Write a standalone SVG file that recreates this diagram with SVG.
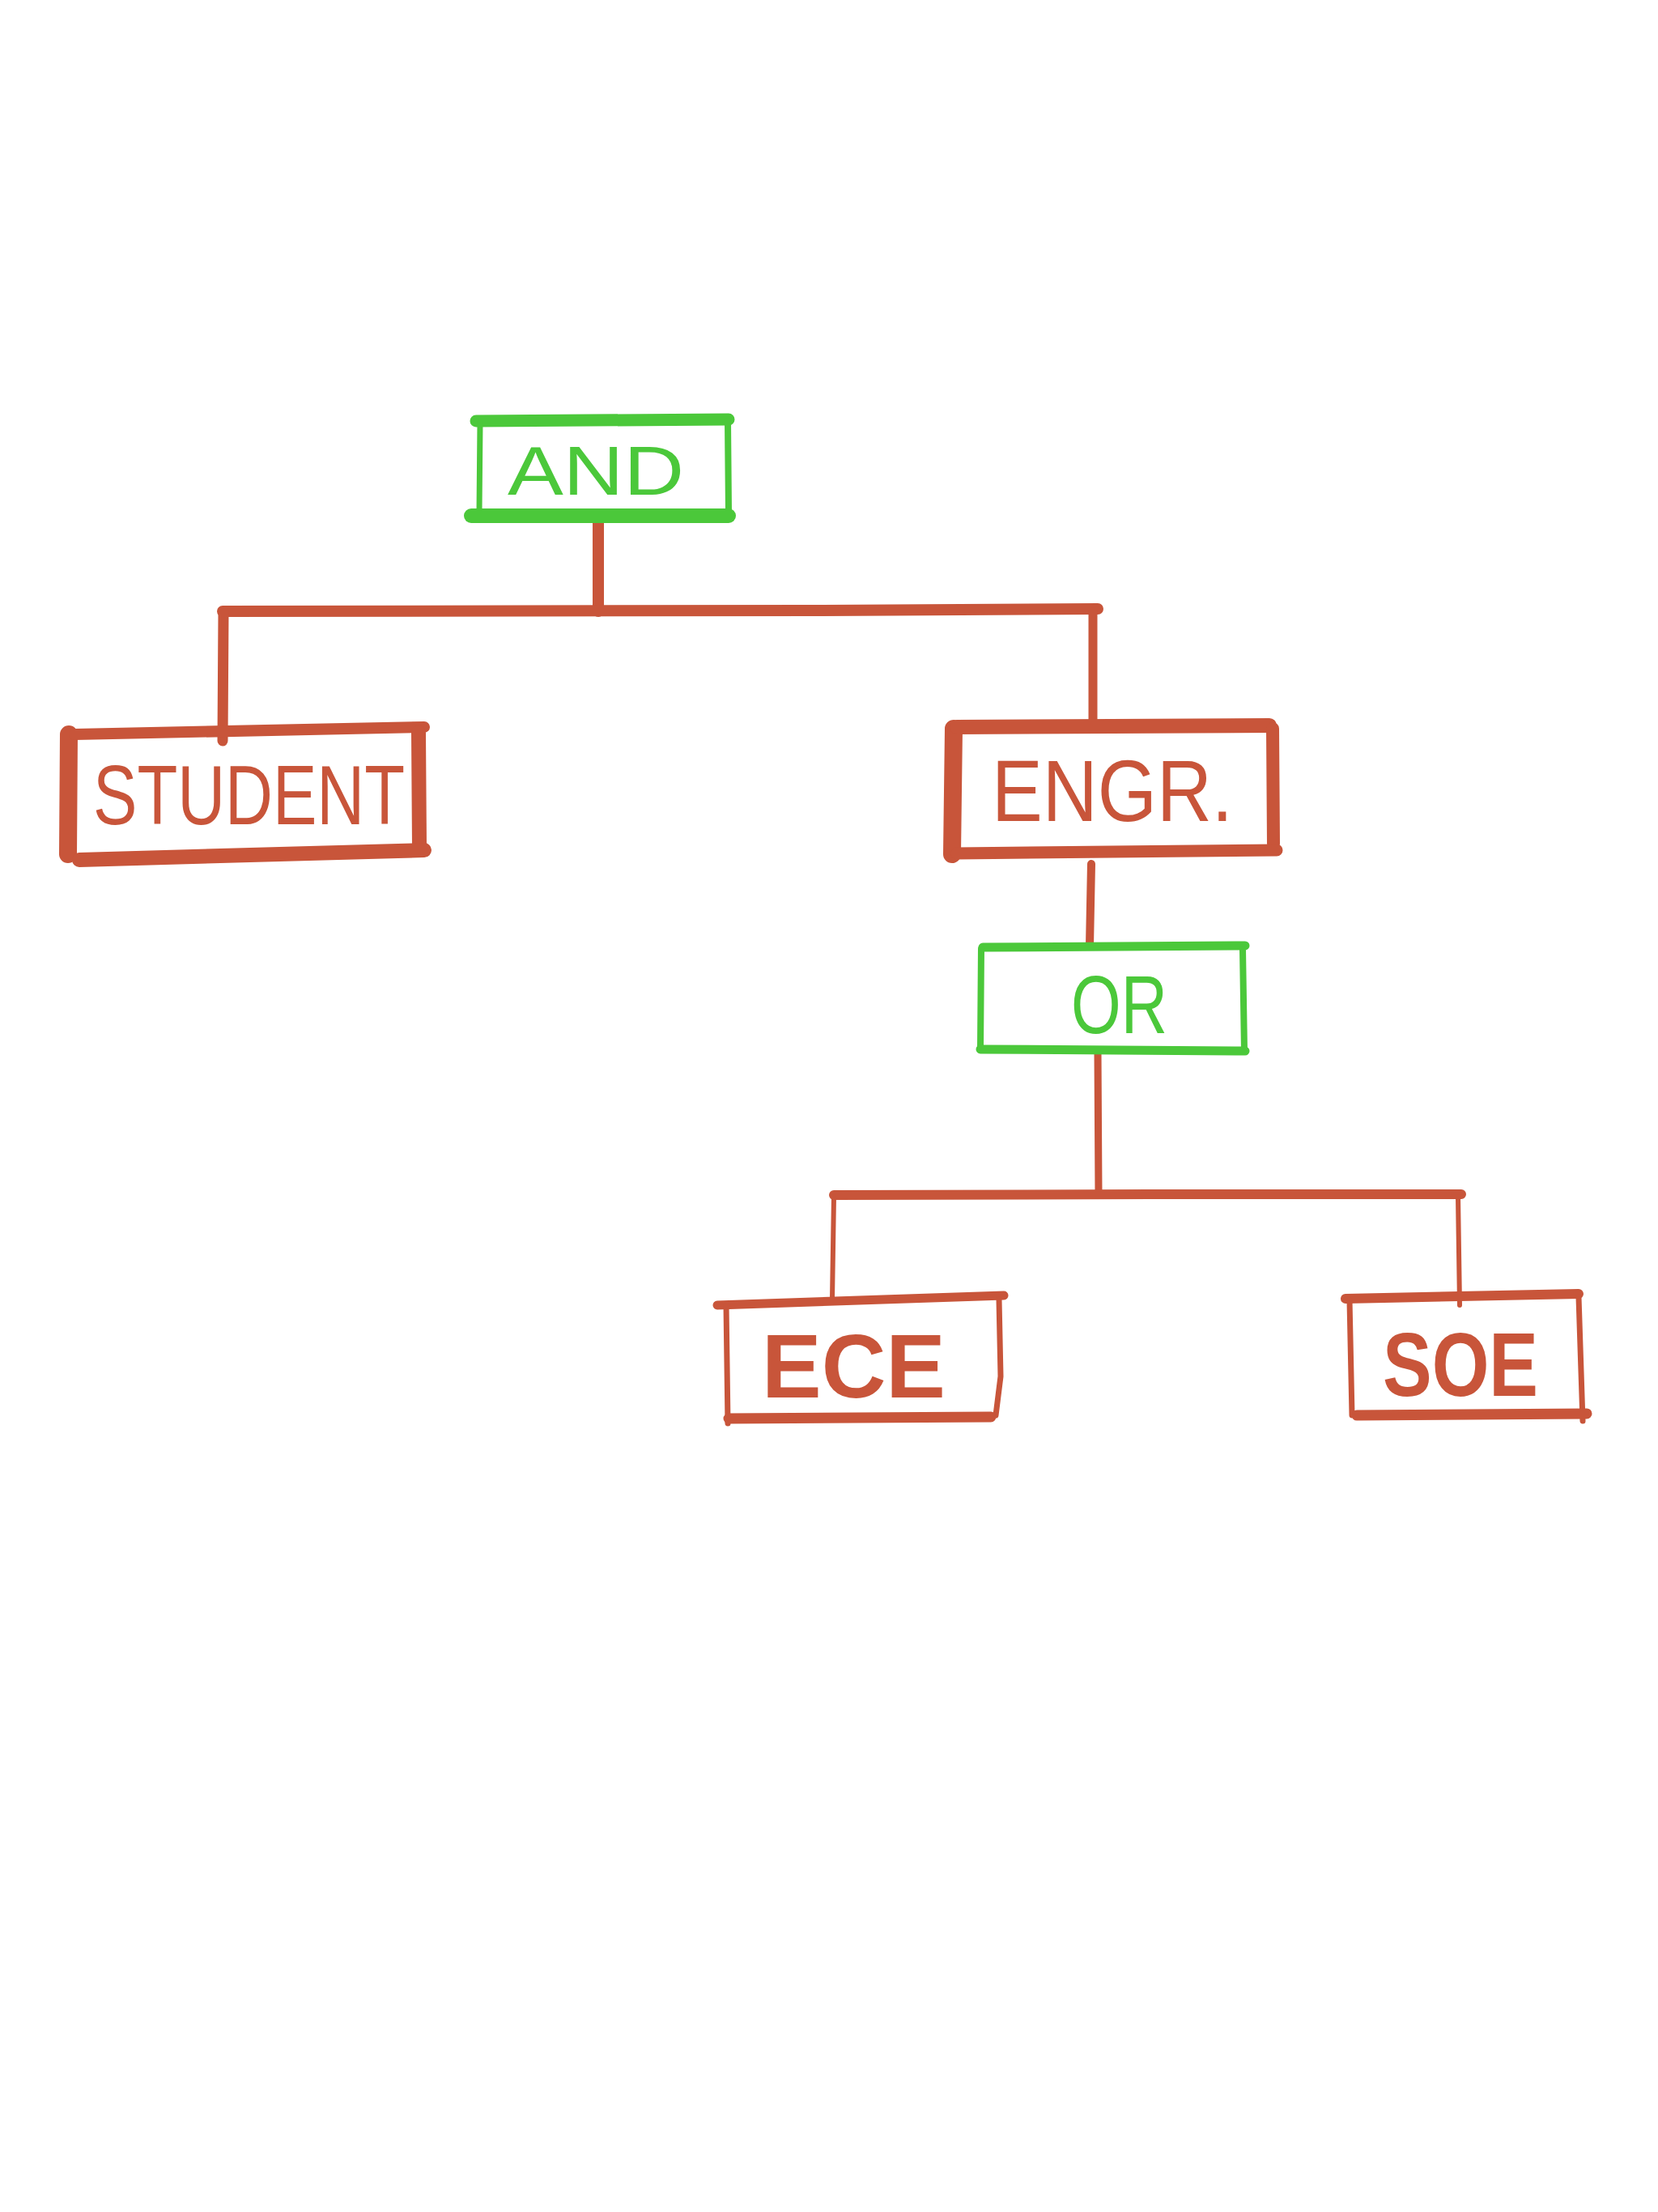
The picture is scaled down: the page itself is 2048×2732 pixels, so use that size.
<svg xmlns="http://www.w3.org/2000/svg" width="2048" height="2732" viewBox="0 0 2048 2732">
<style>
.o{stroke:#C8553A;fill:none;stroke-linecap:round;stroke-linejoin:round}
.g{stroke:#4BC83A;fill:none;stroke-linecap:round;stroke-linejoin:round}
.to{fill:#C8553A;font-family:"Liberation Sans",Arial,sans-serif}
.tg{fill:#4BC83A;font-family:"Liberation Sans",Arial,sans-serif}
</style>
<rect width="2048" height="2732" fill="#FFFFFF"/>
<g id="connectors">
<path class="o" d="M739 641 L739 755" stroke-width="14"/>
<path class="o" d="M275 755 L1000 754 L1356 752" stroke-width="14"/>
<path class="o" d="M276 756 L275 915" stroke-width="13"/>
<path class="o" d="M1350 756 L1350 900" stroke-width="11"/>
<path class="o" d="M1348 1067 L1346 1168" stroke-width="10"/>
<path class="o" d="M1356 1300 L1357 1475" stroke-width="9"/>
<path class="o" d="M1030 1476 L1420 1475 L1805 1475" stroke-width="12"/>
<path class="o" d="M1030 1478 L1028 1605" stroke-width="6"/>
<path class="o" d="M1801 1478 L1803 1612" stroke-width="6"/>
</g>
<g id="node-and">
<path class="g" d="M588 520 L900 518" stroke-width="15"/>
<path class="g" d="M593 522 L592 632" stroke-width="7"/>
<path class="g" d="M899 520 L900 633" stroke-width="8"/>
<path class="g" d="M582 637 L900 637" stroke-width="18"/>
<text class="tg" x="627" y="611" font-size="86" textLength="218" lengthAdjust="spacingAndGlyphs">AND</text>
</g>
<g id="node-student">
<path class="o" d="M85 907 L84 1055" stroke-width="22"/>
<path class="o" d="M92 907 L524 898" stroke-width="14"/>
<path class="o" d="M517 905 L518 1045" stroke-width="18"/>
<path class="o" d="M98 1062 L524 1050" stroke-width="18"/>
<text class="to" x="115" y="1018" font-size="104" textLength="385" lengthAdjust="spacingAndGlyphs">STUDENT</text>
</g>
<g id="node-engr">
<path class="o" d="M1178 900 L1176 1055" stroke-width="22"/>
<path class="o" d="M1182 898 L1568 896" stroke-width="18"/>
<path class="o" d="M1572 900 L1573 1042" stroke-width="16"/>
<path class="o" d="M1182 1054 L1577 1050" stroke-width="15"/>
<text class="to" x="1225" y="1014" font-size="108" textLength="298" lengthAdjust="spacingAndGlyphs">ENGR.</text>
</g>
<g id="node-or">
<path class="g" d="M1214 1170 L1538 1168" stroke-width="11"/>
<path class="g" d="M1212 1172 L1211 1296" stroke-width="8"/>
<path class="g" d="M1535 1172 L1537 1298" stroke-width="8"/>
<path class="g" d="M1211 1296 L1538 1298" stroke-width="11"/>
<text class="tg" x="1323" y="1276" font-size="102" textLength="119" lengthAdjust="spacingAndGlyphs">OR</text>
</g>
<g id="node-ece">
<path class="o" d="M886 1612 L1240 1600" stroke-width="11"/>
<path class="o" d="M897 1612 L899 1758" stroke-width="7"/>
<path class="o" d="M1234 1605 L1236 1700 L1230 1748" stroke-width="7"/>
<path class="o" d="M900 1752 L1224 1750" stroke-width="13"/>
<text class="to" x="941" y="1726" font-size="112" font-weight="bold" textLength="227" lengthAdjust="spacingAndGlyphs">ECE</text>
</g>
<g id="node-soe">
<path class="o" d="M1662 1604 L1950 1598" stroke-width="12"/>
<path class="o" d="M1667 1606 L1670 1748" stroke-width="7"/>
<path class="o" d="M1950 1602 L1955 1755" stroke-width="7"/>
<path class="o" d="M1676 1748 L1960 1746" stroke-width="13"/>
<text class="to" x="1708" y="1724" font-size="112" font-weight="bold" textLength="192" lengthAdjust="spacingAndGlyphs">SOE</text>
</g>
</svg>
